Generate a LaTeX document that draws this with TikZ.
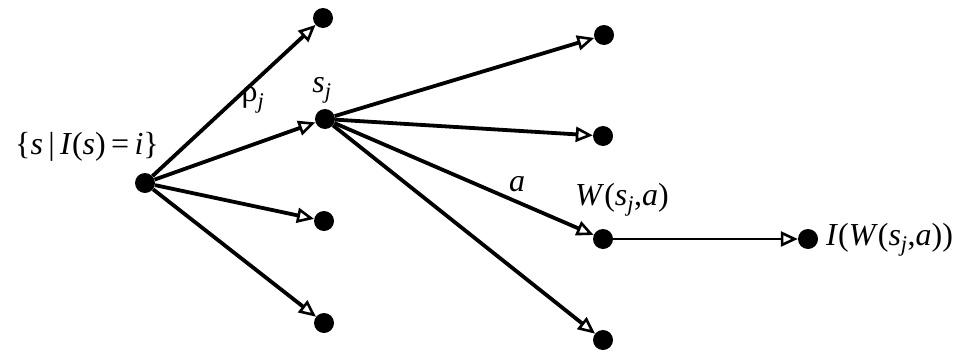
\documentclass[tikz,border=0pt]{standalone}
\usepackage{fontspec}
\setmainfont{Liberation Serif}
\usetikzlibrary{arrows.meta}
\newcommand{\vi}[1]{\textit{#1}}
\newcommand{\sbj}{\textsubscript{\textit{j}}}
\begin{document}
\begin{tikzpicture}[x=1pt,y=-1pt,
  dot/.style={circle,fill=black,inner sep=0pt,minimum size=20pt},
  edge/.style={line width=3.8pt,-{Triangle[open,length=17pt,width=15pt,line width=2.6pt]}},
  lbl/.style={font=\fontsize{32}{36}\selectfont,inner sep=0pt}]
\useasboundingbox (0,0) rectangle (977,351);
\node[dot] (r) at (145,183) {};
\node[dot] (a1) at (323,18) {};
\node[dot] (sj) at (325,119) {};
\node[dot] (a3) at (324,221) {};
\node[dot] (a4) at (324,323) {};
\node[dot] (b1) at (604,35) {};
\node[dot] (b2) at (603,136) {};
\node[dot] (w) at (603,239) {};
\node[dot] (b4) at (603,340) {};
\node[dot] (i) at (808,239) {};
\draw[edge] (r) -- (a1);
\draw[edge] (r) -- (sj);
\draw[edge] (r) -- (a3);
\draw[edge] (r) -- (a4);
\draw[edge] (sj) -- (b1);
\draw[edge] (sj) -- (b2);
\draw[edge] (sj) -- (w);
\draw[edge] (sj) -- (b4);
\draw[edge,line width=2.6pt] (w) -- (i);
\node[lbl] (l0) at (87,147) {\{\vi{s}\,|\,\vi{I}(\vi{s})\,=\,\vi{i}\}};
\node[lbl] (l1) at (253,100) {ρ\sbj};
\node[lbl] (l2) at (322,90) {\vi{s}\sbj};
\node[lbl] (l3) at (517,184) {\vi{a}};
\node[lbl] (l4) at (622,200) {\vi{W}(\vi{s}\sbj,\vi{a})};
\node[lbl,anchor=west] (l5) at (826,240) {\vi{I}(\vi{W}(\vi{s}\sbj,\vi{a}))};
\end{tikzpicture}
\end{document}
